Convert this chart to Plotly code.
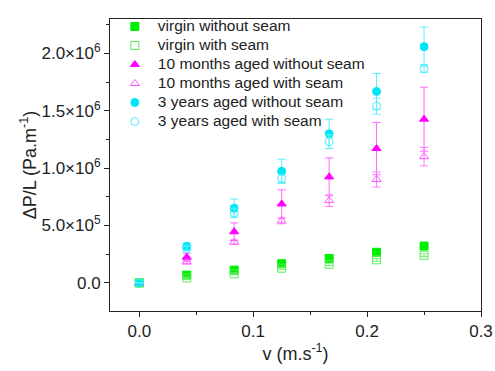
import plotly.graph_objects as go

v = [0.0, 0.0417, 0.0833, 0.125, 0.1667, 0.2083, 0.25]

virgin_no = [0, 68e3, 111e3, 167e3, 213e3, 267e3, 321e3]
virgin_no_err = [0, 8e3, 8e3, 10e3, 10e3, 12e3, 12e3]
virgin_seam = [0, 43e3, 79e3, 128e3, 162e3, 201e3, 241e3]
virgin_seam_err = [0, 8e3, 8e3, 10e3, 10e3, 12e3, 12e3]

m10_no = [0, 224e3, 446e3, 688e3, 924e3, 1171e3, 1427e3]
m10_no_err = [0, 35e3, 77e3, 123e3, 165e3, 228e3, 279e3]
m10_seam = [0, 182e3, 355e3, 540e3, 717e3, 901e3, 1100e3]
m10_seam_err = [0, 15e3, 20e3, 25e3, 50e3, 65e3, 80e3]

y3_no = [0, 318e3, 651e3, 973e3, 1299e3, 1669e3, 2059e3]
y3_no_err = [0, 30e3, 80e3, 105e3, 128e3, 156e3, 171e3]
y3_seam = [0, 299e3, 611e3, 910e3, 1231e3, 1541e3, 1868e3]
y3_seam_err = [0, 20e3, 40e3, 35e3, 60e3, 70e3, 36e3]

names = ["virgin without seam", "virgin with seam",
         "10 months aged without seam", "10 months aged with seam",
         "3 years aged without seam", "3 years aged with seam"]

y_tickvals = [0, 5e5, 1e6, 1.5e6, 2e6]
y_ticktext = ["0.0", "5.0×10<sup>5</sup>", "1.0×10<sup>6</sup>",
              "1.5×10<sup>6</sup>", "2.0×10<sup>6</sup>"]
x_tickvals = [0.0, 0.1, 0.2, 0.3]
x_ticktext = ["0.0", "0.1", "0.2", "0.3"]

series = [
    (virgin_no, virgin_no_err, "square", "#00ee00", "#55ee55"),
    (virgin_seam, virgin_seam_err, "square-open", "#55ee55", "#77ee77"),
    (m10_no, m10_no_err, "triangle-up", "#ff00ff", "#ff66ff"),
    (m10_seam, m10_seam_err, "triangle-up-open", "#ff55ff", "#ff77ff"),
    (y3_no, y3_no_err, "circle", "#00e5f5", "#55eeff"),
    (y3_seam, y3_seam_err, "circle-open", "#44eeff", "#66eeff"),
]

fig = go.Figure()
for (vals, err, sym, col, ecol), nm in zip(series, names):
    fig.add_trace(go.Scatter(
        x=v, y=vals, mode="markers",
        name='<span style="font-size:15.5px">' + nm + '</span>',
        marker=dict(symbol=sym, size=8, color=col, line=dict(color=col, width=1)),
        error_y=dict(type="data", array=err, visible=True, color=ecol,
                     thickness=1, width=4),
    ))

axis_common = dict(
    showline=True, linecolor="#222", linewidth=1, mirror=True,
    ticks="outside", ticklen=5, tickcolor="#222", showgrid=False,
    zeroline=False, tickfont=dict(size=17, color="#222"), automargin=False,
)

fig.update_layout(
    width=495, height=371,
    margin=dict(l=110, r=14, t=13, b=60),
    plot_bgcolor="white", paper_bgcolor="white",
    font=dict(family="Liberation Sans, Arial", size=17, color="#222"),
    showlegend=True,
    legend=dict(x=0.005, y=1.024, xanchor="left", yanchor="top",
                bgcolor="rgba(0,0,0,0)", font=dict(size=12),
                tracegroupgap=0, itemwidth=36),
    xaxis=dict(range=[-0.0257, 0.3], tickmode="array", tickvals=x_tickvals,
               ticktext=x_ticktext,
               minor=dict(ticks="outside", ticklen=3, dtick=0.05, tick0=0,
                          tickcolor="#222"),
               title=dict(text="v (m.s<sup>-1</sup>)", font=dict(size=18), standoff=5),
               **axis_common),
    yaxis=dict(range=[-2.45e5, 2.3e6], tickmode="array", tickvals=y_tickvals,
               ticktext=y_ticktext,
               minor=dict(ticks="outside", ticklen=3, dtick=2.5e5, tick0=0,
                          tickcolor="#222"),
               title=dict(text="ΔP/L (Pa.m<sup>-1</sup>)", font=dict(size=18), standoff=0),
               **axis_common),
)

fig.write_html("out.html", config={"displayModeBar": False},
               post_script="document.body.style.margin='0px';")
